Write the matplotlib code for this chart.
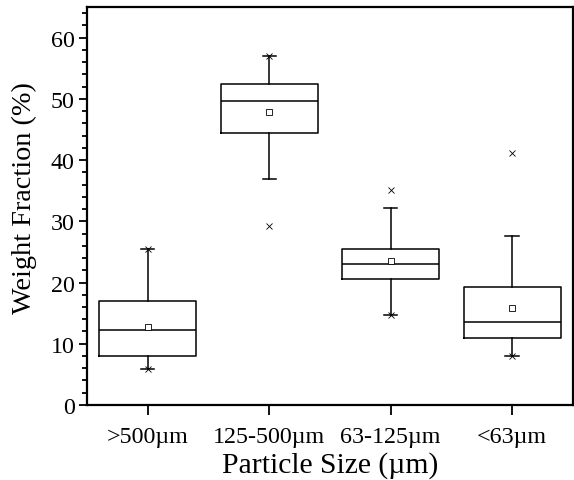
import matplotlib
matplotlib.use("Agg")
import matplotlib.pyplot as plt
from matplotlib.ticker import MultipleLocator

plt.rcParams['font.family'] = ['Liberation Serif', 'DejaVu Serif']

categories = [">500µm", "125-500µm", "63-125µm", "<63µm"]
q1 = [8.0, 44.4, 20.6, 11.0]
median = [12.2, 49.7, 23.1, 13.5]
q3 = [17.0, 52.4, 25.5, 19.3]
mean = [12.8, 47.9, 23.5, 15.8]
whisker_low = [5.9, 36.9, 14.7, 8.0]
whisker_high = [25.4, 57.0, 32.2, 27.6]
extreme_low = [5.9, 29.3, 14.7, 8.0]
extreme_high = [25.4, 57.0, 35.1, 41.2]

fig = plt.figure(figsize=(5.74, 4.81), dpi=100)
ax = fig.add_axes([0.1516, 0.156, 0.8464, 0.8274])

stats = []
for i in range(len(categories)):
    stats.append(dict(med=median[i], q1=q1[i], q3=q3[i], whislo=whisker_low[i],
                      whishi=whisker_high[i], mean=mean[i], fliers=[], label=categories[i]))

pos = list(range(1, len(categories) + 1))
ax.bxp(stats, positions=pos, widths=0.8, showmeans=True, showfliers=False,
       capwidths=0.11,
       boxprops=dict(color='black', linewidth=1.1),
       medianprops=dict(color='black', linewidth=1.1),
       whiskerprops=dict(color='black', linewidth=1.1),
       capprops=dict(color='black', linewidth=1.1),
       meanprops=dict(marker='s', markerfacecolor='white', markeredgecolor='black',
                      markersize=3.8, markeredgewidth=0.6))

ax.plot(pos, extreme_low, linestyle='none', marker='x', color='black', markersize=4.5, markeredgewidth=0.6)
ax.plot(pos, extreme_high, linestyle='none', marker='x', color='black', markersize=4.5, markeredgewidth=0.6)

ax.set_xlim(0.5, 4.5)
ax.set_ylim(0, 65)
ax.set_xticks(pos)
ax.set_xticklabels(categories)
ax.yaxis.set_major_locator(MultipleLocator(10))
ax.yaxis.set_minor_locator(MultipleLocator(2))
ax.tick_params(axis='both', which='both', direction='out', top=False, right=False, labelsize=17.3, width=1.3)
ax.tick_params(axis='y', which='major', length=6, pad=3)
ax.tick_params(axis='y', which='minor', length=3.5)
ax.tick_params(axis='x', which='major', length=7, pad=8)
ax.tick_params(axis='x', which='minor', bottom=False)
for s in ax.spines.values():
    s.set_linewidth(1.6)

ax.set_xlabel("Particle Size (µm)", fontsize=21.3, labelpad=3)
ax.set_ylabel("Weight Fraction (%)", fontsize=20.3, labelpad=10)
ax.yaxis.label.set_y(0.522)

fig.savefig("out.png", dpi=100)
